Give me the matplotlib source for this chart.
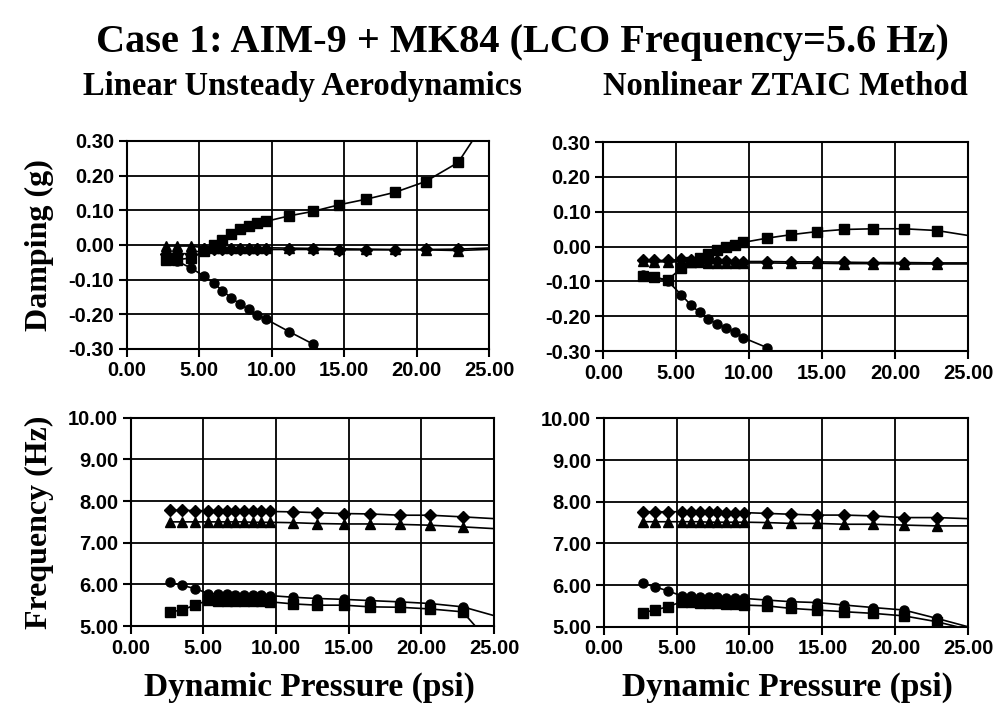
import numpy as np
import matplotlib
matplotlib.use("Agg")
import matplotlib.pyplot as plt
from matplotlib.ticker import FormatStrFormatter

plt.rcParams['axes.unicode_minus'] = False

# dynamic pressure (psi); last value lies past the axis and only sets the line run-out
q = [2.7, 3.5, 4.4, 5.35, 6.0, 6.6, 7.2, 7.8, 8.4, 9.0, 9.6, 11.2, 12.85, 14.65, 16.5, 18.5, 20.6, 22.85, 25.4]

# linear unsteady aero - damping
lin_g_sq = [-0.042, -0.042, -0.038, -0.018, 0.000, 0.015, 0.033, 0.047, 0.056, 0.062, 0.068, 0.084, 0.097, 0.116, 0.132, 0.152, 0.183, 0.238, 0.40]
lin_g_ci = [-0.042, -0.047, -0.066, -0.090, -0.110, -0.132, -0.152, -0.170, -0.186, -0.201, -0.214, -0.250, -0.286, -0.36, -0.44, -0.52, -0.60, -0.70, -0.80]
lin_g_di = [-0.025, -0.025, -0.025, -0.013, -0.013, -0.013, -0.013, -0.013, -0.013, -0.013, -0.013, -0.013, -0.013, -0.014, -0.014, -0.014, -0.013, -0.012, -0.008]
lin_g_tr = [-0.003, -0.003, -0.003, -0.008, -0.008, -0.008, -0.008, -0.008, -0.008, -0.008, -0.008, -0.009, -0.010, -0.011, -0.012, -0.013, -0.014, -0.016, -0.012]

# nonlinear ZTAIC - damping
nl_g_sq = [-0.084, -0.088, -0.096, -0.062, -0.045, -0.032, -0.020, -0.010, -0.002, 0.003, 0.012, 0.024, 0.034, 0.043, 0.049, 0.051, 0.051, 0.046, 0.029]
nl_g_ci = [-0.082, -0.088, -0.098, -0.139, -0.168, -0.189, -0.209, -0.222, -0.234, -0.245, -0.262, -0.290, -0.34, -0.40, -0.46, -0.52, -0.58, -0.64, -0.70]
nl_g_di = [-0.038, -0.040, -0.040, -0.037, -0.040, -0.041, -0.041, -0.042, -0.042, -0.043, -0.043, -0.043, -0.044, -0.044, -0.045, -0.046, -0.046, -0.047, -0.047]
nl_g_tr = [-0.042, -0.044, -0.044, -0.044, -0.045, -0.045, -0.046, -0.046, -0.046, -0.047, -0.047, -0.047, -0.048, -0.048, -0.049, -0.049, -0.050, -0.050, -0.050]

# linear unsteady aero - frequency
lin_f_di = [7.78, 7.78, 7.77, 7.77, 7.77, 7.77, 7.76, 7.76, 7.76, 7.76, 7.75, 7.74, 7.72, 7.70, 7.69, 7.66, 7.66, 7.62, 7.57]
lin_f_tr = [7.50, 7.50, 7.50, 7.50, 7.50, 7.50, 7.50, 7.50, 7.49, 7.49, 7.49, 7.48, 7.46, 7.45, 7.45, 7.44, 7.42, 7.38, 7.33]
lin_f_ci = [6.05, 5.98, 5.90, 5.78, 5.77, 5.76, 5.75, 5.75, 5.74, 5.74, 5.73, 5.69, 5.66, 5.64, 5.61, 5.58, 5.54, 5.46, 5.21]
lin_f_sq = [5.34, 5.38, 5.50, 5.62, 5.61, 5.61, 5.60, 5.60, 5.59, 5.59, 5.58, 5.53, 5.50, 5.50, 5.46, 5.45, 5.41, 5.34, 4.33]

# nonlinear ZTAIC - frequency
nl_f_di = [7.76, 7.76, 7.76, 7.76, 7.76, 7.75, 7.75, 7.75, 7.74, 7.74, 7.74, 7.72, 7.70, 7.68, 7.68, 7.66, 7.62, 7.62, 7.59]
nl_f_tr = [7.52, 7.52, 7.52, 7.52, 7.52, 7.52, 7.51, 7.51, 7.51, 7.51, 7.51, 7.50, 7.48, 7.48, 7.46, 7.46, 7.44, 7.42, 7.42]
nl_f_ci = [6.04, 5.96, 5.86, 5.74, 5.73, 5.72, 5.72, 5.71, 5.70, 5.69, 5.68, 5.64, 5.60, 5.58, 5.52, 5.46, 5.40, 5.20, 4.96]
nl_f_sq = [5.34, 5.40, 5.48, 5.60, 5.59, 5.58, 5.57, 5.56, 5.55, 5.54, 5.52, 5.50, 5.44, 5.40, 5.36, 5.32, 5.26, 5.12, 4.90]

serif = "Liberation Serif"
sans = "Liberation Sans"

fig = plt.figure(figsize=(9.97, 7.06), dpi=100)

def panel(rect, series, ylim, yticks):
    ax = fig.add_axes(rect)
    for ys, m, ms in series:
        ax.plot(q, ys, color="black", lw=1.2, marker=m, ms=ms,
                markerfacecolor="black", markeredgecolor="black")
    ax.set_xlim(0, 25)
    ax.set_ylim(*ylim)
    ax.set_xticks(np.arange(0, 25.1, 5))
    ax.set_yticks(yticks)
    ax.xaxis.set_major_formatter(FormatStrFormatter('%.2f'))
    ax.yaxis.set_major_formatter(FormatStrFormatter('%.2f'))
    ax.grid(True, color="black", lw=1.3)
    ax.set_axisbelow(True)
    for s in ax.spines.values():
        s.set_linewidth(1.5)
    ax.tick_params(direction="out", length=6, width=1.5, pad=3)
    for lab in ax.get_xticklabels() + ax.get_yticklabels():
        lab.set_fontfamily(sans)
        lab.set_fontweight("bold")
        lab.set_fontsize(14.5)
    return ax

g_ticks = np.round(np.arange(-0.3, 0.31, 0.1), 2)
f_ticks = np.arange(5, 10.1, 1)

ax1 = panel([0.1271, 0.5057, 0.3637, 0.2946],
            [(lin_g_di, "D", 6), (lin_g_tr, "^", 7), (lin_g_sq, "s", 7.5), (lin_g_ci, "o", 6.5)],
            (-0.3, 0.3), g_ticks)
ax2 = panel([0.6051, 0.5028, 0.3661, 0.2960],
            [(nl_g_tr, "^", 7), (nl_g_di, "D", 6), (nl_g_sq, "s", 7.5), (nl_g_ci, "o", 6.5)],
            (-0.3, 0.3), g_ticks)
ax3 = panel([0.1311, 0.1133, 0.3644, 0.2950],
            [(lin_f_di, "D", 6), (lin_f_tr, "^", 7), (lin_f_ci, "o", 6.5), (lin_f_sq, "s", 7.5)],
            (5, 10), f_ticks)
ax4 = panel([0.6055, 0.1123, 0.3656, 0.2950],
            [(nl_f_di, "D", 6), (nl_f_tr, "^", 7), (nl_f_ci, "o", 6.5), (nl_f_sq, "s", 7.5)],
            (5, 10), f_ticks)

fig.text(0.524, 0.94, "Case 1: AIM-9 + MK84 (LCO Frequency=5.6 Hz)", ha="center", va="center",
         fontfamily=serif, fontweight="bold", fontsize=29)
fig.text(0.303, 0.878, "Linear Unsteady Aerodynamics", ha="center", va="center",
         fontfamily=serif, fontweight="bold", fontsize=23.5)
fig.text(0.788, 0.878, "Nonlinear ZTAIC Method", ha="center", va="center",
         fontfamily=serif, fontweight="bold", fontsize=23.5)

fig.text(0.04, 0.653, "Damping (g)", rotation=90, ha="center", va="center",
         fontfamily=serif, fontweight="bold", fontsize=23)
fig.text(0.04, 0.26, "Frequency (Hz)", rotation=90, ha="center", va="center",
         fontfamily=serif, fontweight="bold", fontsize=23)
fig.text(0.31, 0.026, "Dynamic Pressure (psi)", ha="center", va="center",
         fontfamily=serif, fontweight="bold", fontsize=24)
fig.text(0.79, 0.026, "Dynamic Pressure (psi)", ha="center", va="center",
         fontfamily=serif, fontweight="bold", fontsize=24)

fig.savefig("out.png", dpi=100)
